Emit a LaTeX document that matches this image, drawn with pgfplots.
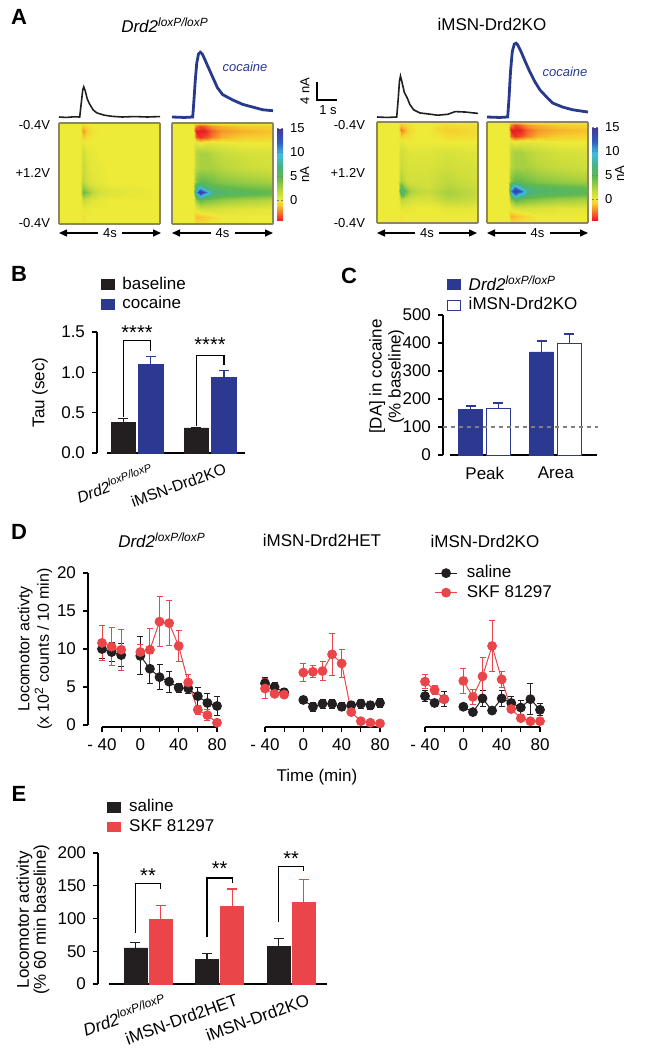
\documentclass[border=0pt]{standalone}
\usepackage{fontspec}
\setmainfont{Liberation Sans}
\usepackage{pgfplots}
\pgfplotsset{compat=1.18}
\usetikzlibrary{arrows.meta}

\definecolor{NavyBar}{HTML}{2B3990}
\definecolor{InkBlack}{HTML}{231F20}
\definecolor{SkfRed}{HTML}{EA4649}
\definecolor{HeatEdge}{HTML}{8C885C}
\definecolor{TraceBlue}{HTML}{283A8C}

\newcommand{\drd}{\textit{Drd2\textsuperscript{loxP/loxP}}}
\newcommand{\fs}{\fontsize{8.5}{9.5}\selectfont}
\newcommand{\fsm}{\fontsize{6.5}{7.5}\selectfont}
\newcommand{\fsl}{\fontsize{11}{12}\selectfont\bfseries}

\pgfplotsset{
  colormap={fscv}{rgb255(0pt)=(232,30,36); rgb255(19pt)=(245,125,40); rgb255(34pt)=(246,205,45);
    rgb255(44pt)=(238,234,56); rgb255(64pt)=(185,214,62); rgb255(89pt)=(98,186,76);
    rgb255(114pt)=(72,178,130); rgb255(139pt)=(62,190,228); rgb255(164pt)=(48,92,192); rgb255(194pt)=(70,55,150)},
  gp/.style={scale only axis, clip=false,
    axis x line=bottom, axis y line=left,
    axis line style={-, line width=0.6pt, black},
    every tick/.append style={black, line width=0.6pt},
    tick align=outside, major tick length=2.5pt,
    tick label style={font=\fs}, label style={font=\fs},
    /pgf/number format/assume math mode=true},
  legs/.style={legend style={at={(axis description cs:#1)}, anchor=north west, draw=none, fill=none,
    inner sep=0pt, row sep=1pt, font=\fs, nodes={inner sep=0.6pt}}, legend cell align=left},
  sqlegend/.style={legend image code/.code={\draw[##1] (0pt,-2.4pt) rectangle (6.5pt,2.4pt); \path (10pt,0pt);}},
  heat/.style={scale only axis, width=50.5pt, height=50.5pt, view={0}{90},
    xmin=0, xmax=1, ymin=0, ymax=1, xtick=\empty, ytick=\empty, ztick=\empty,
    axis on top, axis line style={HeatEdge, line width=0.6pt},
    colormap name=fscv, point meta min=-4.4, point meta max=15},
  cbar/.style={colorbar right, colorbar style={at={(parent axis.north east)}, anchor=north west,
    xshift=-6.5pt, yshift=-2.5pt, width=3pt, height=46.5pt, ytick={0,5,10,15},
    yticklabel style={font=\fsm, /pgf/number format/assume math mode=true},
    major tick length=1.2pt, axis line style={draw=none},
    ylabel={nA}, ylabel style={font=\fsm, at={(axis description cs:4.6,0.5)}, anchor=center}}},
  trace/.style={scale only axis, hide axis, width=50.5pt, height=40.5pt,
    xmin=0, xmax=4, ymin=-1, ymax=17, clip=false},
  dpt/.style={line width=0.5pt, mark=*, mark size=2.2pt, mark options={solid, fill=#1, draw=#1},
    color=#1, unbounded coords=jump,
    error bars/y dir=both, error bars/y explicit,
    error bars/error bar style={#1, line width=0.5pt},
    error bars/error mark options={rotate=90, mark size=1.5pt, #1, line width=0.5pt}},
  bpt/.style={ybar, bar shift=0pt, bar width=0.33, fill=#1, draw=#1, sqlegend,
    error bars/y dir=plus, error bars/y explicit,
    error bars/error bar style={#1, line width=0.6pt},
    error bars/error mark options={rotate=90, mark size=2.5pt, #1, line width=0.6pt}},
}

\begin{document}
\begin{tikzpicture}
\useasboundingbox (0pt,0pt) rectangle (325.5pt,-524.5pt);

% ---------- A: heat maps ----------
\begin{axis}[heat, at={(29.5pt,-112pt)}]
\addplot3[surf, shader=interp, mesh/cols=9] coordinates {
(0,0,0) (0.21,0,0) (0.235,0,0) (0.28,0,0) (0.33,0,0) (0.4,0,0) (0.5,0,0) (0.7,0,0) (1,0,0)
(0,0.07,0) (0.21,0.07,0) (0.235,0.07,-0.3) (0.28,0.07,0) (0.33,0.07,0) (0.4,0.07,0) (0.5,0.07,0) (0.7,0.07,0) (1,0.07,0)
(0,0.15,0) (0.21,0.15,0) (0.235,0.15,0.3) (0.28,0.15,0.2) (0.33,0.15,0) (0.4,0.15,0) (0.5,0.15,0) (0.7,0.15,0) (1,0.15,0)
(0,0.24,0) (0.21,0.24,0) (0.235,0.24,1.5) (0.28,0.24,1) (0.33,0.24,0.5) (0.4,0.24,0.3) (0.5,0.24,0) (0.7,0.24,0) (1,0.24,0)
(0,0.29,0) (0.21,0.29,0) (0.235,0.29,3.5) (0.28,0.29,2.5) (0.33,0.29,1.5) (0.4,0.29,0.8) (0.5,0.29,0.5) (0.7,0.29,0.3) (1,0.29,0)
(0,0.32,0) (0.21,0.32,0) (0.235,0.32,4.5) (0.28,0.32,3.5) (0.33,0.32,2) (0.4,0.32,1) (0.5,0.32,0.6) (0.7,0.32,0.3) (1,0.32,0)
(0,0.35,0) (0.21,0.35,0) (0.235,0.35,3.5) (0.28,0.35,2.5) (0.33,0.35,1.5) (0.4,0.35,0.8) (0.5,0.35,0.5) (0.7,0.35,0.3) (1,0.35,0)
(0,0.42,0) (0.21,0.42,0) (0.235,0.42,2) (0.28,0.42,1) (0.33,0.42,0.5) (0.4,0.42,0.3) (0.5,0.42,0) (0.7,0.42,0) (1,0.42,0)
(0,0.55,0) (0.21,0.55,0) (0.235,0.55,1.5) (0.28,0.55,0.8) (0.33,0.55,0.3) (0.4,0.55,0.2) (0.5,0.55,0) (0.7,0.55,0) (1,0.55,0)
(0,0.7,0) (0.21,0.7,0) (0.235,0.7,1.2) (0.28,0.7,0.5) (0.33,0.7,0.3) (0.4,0.7,0) (0.5,0.7,0) (0.7,0.7,0) (1,0.7,0)
(0,0.8,0) (0.21,0.8,0) (0.235,0.8,0.5) (0.28,0.8,0) (0.33,0.8,0) (0.4,0.8,0) (0.5,0.8,0) (0.7,0.8,0) (1,0.8,0)
(0,0.86,0) (0.21,0.86,0) (0.235,0.86,-1) (0.28,0.86,-0.3) (0.33,0.86,0) (0.4,0.86,0) (0.5,0.86,0) (0.7,0.86,0) (1,0.86,0)
(0,0.92,0) (0.21,0.92,0) (0.235,0.92,-2) (0.28,0.92,-1) (0.33,0.92,-0.3) (0.4,0.92,0) (0.5,0.92,0) (0.7,0.92,0) (1,0.92,0)
(0,0.97,0) (0.21,0.97,0) (0.235,0.97,-1) (0.28,0.97,-0.5) (0.33,0.97,0) (0.4,0.97,0) (0.5,0.97,0) (0.7,0.97,0) (1,0.97,0)
(0,1,0) (0.21,1,0) (0.235,1,0) (0.28,1,0) (0.33,1,0) (0.4,1,0) (0.5,1,0) (0.7,1,0) (1,1,0)
};
\end{axis}

\begin{axis}[heat, cbar, at={(86pt,-112pt)}]
\addplot3[surf, shader=interp, mesh/cols=9] coordinates {
(0,0,0) (0.21,0,0) (0.235,0,-0.5) (0.28,0,-0.5) (0.33,0,-0.3) (0.4,0,0) (0.5,0,0) (0.7,0,0) (1,0,0)
(0,0.07,0) (0.21,0.07,0) (0.235,0.07,-1.2) (0.28,0.07,-1.2) (0.33,0.07,-1) (0.4,0.07,-0.5) (0.5,0.07,0) (0.7,0.07,0) (1,0.07,0)
(0,0.15,0) (0.21,0.15,0) (0.235,0.15,0.5) (0.28,0.15,1) (0.33,0.15,1) (0.4,0.15,1) (0.5,0.15,0.8) (0.7,0.15,0.5) (1,0.15,0.3)
(0,0.24,0) (0.21,0.24,0) (0.235,0.24,3) (0.28,0.24,4.5) (0.33,0.24,4) (0.4,0.24,3.5) (0.5,0.24,3) (0.7,0.24,2.5) (1,0.24,2)
(0,0.29,0) (0.21,0.29,0) (0.235,0.29,7) (0.28,0.29,11) (0.33,0.29,8) (0.4,0.29,6) (0.5,0.29,5) (0.7,0.29,4.5) (1,0.29,4)
(0,0.32,0) (0.21,0.32,0) (0.235,0.32,10) (0.28,0.32,15) (0.33,0.32,12) (0.4,0.32,7) (0.5,0.32,6) (0.7,0.32,5.5) (1,0.32,4.5)
(0,0.35,0) (0.21,0.35,0) (0.235,0.35,7) (0.28,0.35,11) (0.33,0.35,8) (0.4,0.35,6) (0.5,0.35,5) (0.7,0.35,4.5) (1,0.35,4)
(0,0.42,0) (0.21,0.42,0) (0.235,0.42,3.5) (0.28,0.42,4.5) (0.33,0.42,4.5) (0.4,0.42,4) (0.5,0.42,3.5) (0.7,0.42,3) (1,0.42,2.5)
(0,0.55,0) (0.21,0.55,0) (0.235,0.55,2) (0.28,0.55,2.5) (0.33,0.55,2.5) (0.4,0.55,2.5) (0.5,0.55,2) (0.7,0.55,1.5) (1,0.55,1)
(0,0.7,0) (0.21,0.7,0) (0.235,0.7,2) (0.28,0.7,2.5) (0.33,0.7,2.5) (0.4,0.7,2) (0.5,0.7,1.5) (0.7,0.7,1) (1,0.7,0.8)
(0,0.8,0) (0.21,0.8,0) (0.235,0.8,0.5) (0.28,0.8,0) (0.33,0.8,0.5) (0.4,0.8,0.5) (0.5,0.8,0.3) (0.7,0.8,0) (1,0.8,0)
(0,0.86,0) (0.21,0.86,0) (0.235,0.86,-3) (0.28,0.86,-4) (0.33,0.86,-3.5) (0.4,0.86,-2.5) (0.5,0.86,-1.5) (0.7,0.86,-1) (1,0.86,-0.8)
(0,0.92,0) (0.21,0.92,0) (0.235,0.92,-4.4) (0.28,0.92,-4.4) (0.33,0.92,-4.4) (0.4,0.92,-3) (0.5,0.92,-2) (0.7,0.92,-1.5) (1,0.92,-1.2)
(0,0.97,0) (0.21,0.97,0) (0.235,0.97,-2.5) (0.28,0.97,-3.5) (0.33,0.97,-3) (0.4,0.97,-2) (0.5,0.97,-1.5) (0.7,0.97,-1) (1,0.97,-0.8)
(0,1,0) (0.21,1,0) (0.235,1,0) (0.28,1,-0.5) (0.33,1,-0.5) (0.4,1,0) (0.5,1,0) (0.7,1,0) (1,1,0)
};
\end{axis}

\begin{axis}[heat, at={(188.5pt,-111.5pt)}]
\addplot3[surf, shader=interp, mesh/cols=9] coordinates {
(0,0,0) (0.21,0,0) (0.235,0,0) (0.28,0,0) (0.33,0,0) (0.4,0,0) (0.5,0,0) (0.7,0,0) (1,0,0)
(0,0.07,0) (0.21,0.07,0) (0.235,0.07,-0.3) (0.28,0.07,0) (0.33,0.07,0) (0.4,0.07,0) (0.5,0.07,0) (0.7,0.07,0) (1,0.07,0)
(0,0.15,0) (0.21,0.15,0) (0.235,0.15,0.5) (0.28,0.15,0.3) (0.33,0.15,0.2) (0.4,0.15,0) (0.5,0.15,0) (0.7,0.15,0.5) (1,0.15,0.3)
(0,0.24,0) (0.21,0.24,0) (0.235,0.24,2) (0.28,0.24,1.5) (0.33,0.24,1) (0.4,0.24,0.8) (0.5,0.24,0.8) (0.7,0.24,2) (1,0.24,1.2)
(0,0.29,0) (0.21,0.29,0) (0.235,0.29,6) (0.28,0.29,3.5) (0.33,0.29,2) (0.4,0.29,1.5) (0.5,0.29,1.2) (0.7,0.29,2.5) (1,0.29,1.5)
(0,0.32,0) (0.21,0.32,0) (0.235,0.32,8.5) (0.28,0.32,4.5) (0.33,0.32,2.5) (0.4,0.32,1.8) (0.5,0.32,1.5) (0.7,0.32,2.5) (1,0.32,1.5)
(0,0.35,0) (0.21,0.35,0) (0.235,0.35,6) (0.28,0.35,3.5) (0.33,0.35,2) (0.4,0.35,1.5) (0.5,0.35,1.2) (0.7,0.35,2.2) (1,0.35,1.3)
(0,0.42,0) (0.21,0.42,0) (0.235,0.42,2.5) (0.28,0.42,1.5) (0.33,0.42,1) (0.4,0.42,1) (0.5,0.42,1) (0.7,0.42,1.8) (1,0.42,1)
(0,0.55,0) (0.21,0.55,0) (0.235,0.55,1.5) (0.28,0.55,1) (0.33,0.55,0.8) (0.4,0.55,0.8) (0.5,0.55,0.8) (0.7,0.55,1.2) (1,0.55,0.8)
(0,0.7,0) (0.21,0.7,0) (0.235,0.7,1.2) (0.28,0.7,0.8) (0.33,0.7,0.5) (0.4,0.7,0.5) (0.5,0.7,0.5) (0.7,0.7,0.8) (1,0.7,0.5)
(0,0.8,0) (0.21,0.8,0) (0.235,0.8,0.5) (0.28,0.8,0.2) (0.33,0.8,0) (0.4,0.8,0) (0.5,0.8,0) (0.7,0.8,0) (1,0.8,0)
(0,0.86,0) (0.21,0.86,0) (0.235,0.86,-1) (0.28,0.86,-0.5) (0.33,0.86,-0.2) (0.4,0.86,0) (0.5,0.86,0) (0.7,0.86,-0.5) (1,0.86,-0.3)
(0,0.92,0) (0.21,0.92,0) (0.235,0.92,-2.5) (0.28,0.92,-1.5) (0.33,0.92,-0.5) (0.4,0.92,0) (0.5,0.92,0) (0.7,0.92,-1) (1,0.92,-0.5)
(0,0.97,0) (0.21,0.97,0) (0.235,0.97,-1.2) (0.28,0.97,-0.8) (0.33,0.97,-0.3) (0.4,0.97,0) (0.5,0.97,0) (0.7,0.97,-0.5) (1,0.97,-0.3)
(0,1,0) (0.21,1,0) (0.235,1,0) (0.28,1,0) (0.33,1,0) (0.4,1,0) (0.5,1,0) (0.7,1,0) (1,1,0)
};
\end{axis}

\begin{axis}[heat, cbar, at={(243.5pt,-111.5pt)}]
\addplot3[surf, shader=interp, mesh/cols=9] coordinates {
(0,0,0) (0.21,0,0) (0.235,0,-0.5) (0.28,0,-0.5) (0.33,0,-0.3) (0.4,0,0) (0.5,0,0) (0.7,0,0) (1,0,0)
(0,0.07,0) (0.21,0.07,0) (0.235,0.07,-1.5) (0.28,0.07,-1.3) (0.33,0.07,-1) (0.4,0.07,-0.5) (0.5,0.07,0) (0.7,0.07,0) (1,0.07,0)
(0,0.15,0) (0.21,0.15,0) (0.235,0.15,0.5) (0.28,0.15,1) (0.33,0.15,1) (0.4,0.15,1) (0.5,0.15,0.8) (0.7,0.15,0.5) (1,0.15,0.5)
(0,0.24,0) (0.21,0.24,0) (0.235,0.24,3.5) (0.28,0.24,5) (0.33,0.24,4.5) (0.4,0.24,4) (0.5,0.24,3.5) (0.7,0.24,3) (1,0.24,2.5)
(0,0.29,0) (0.21,0.29,0) (0.235,0.29,8) (0.28,0.29,12) (0.33,0.29,9) (0.4,0.29,6.5) (0.5,0.29,5.5) (0.7,0.29,5) (1,0.29,4.5)
(0,0.32,0) (0.21,0.32,0) (0.235,0.32,11) (0.28,0.32,15) (0.33,0.32,13) (0.4,0.32,7.5) (0.5,0.32,6.5) (0.7,0.32,6) (1,0.32,5)
(0,0.35,0) (0.21,0.35,0) (0.235,0.35,8) (0.28,0.35,12) (0.33,0.35,9) (0.4,0.35,6.5) (0.5,0.35,5.5) (0.7,0.35,5) (1,0.35,4.5)
(0,0.42,0) (0.21,0.42,0) (0.235,0.42,3.5) (0.28,0.42,4.5) (0.33,0.42,4.5) (0.4,0.42,4) (0.5,0.42,3.5) (0.7,0.42,3) (1,0.42,2.5)
(0,0.55,0) (0.21,0.55,0) (0.235,0.55,2) (0.28,0.55,2.5) (0.33,0.55,2.5) (0.4,0.55,2.5) (0.5,0.55,2) (0.7,0.55,1.5) (1,0.55,1.2)
(0,0.7,0) (0.21,0.7,0) (0.235,0.7,2) (0.28,0.7,2.5) (0.33,0.7,2.5) (0.4,0.7,2) (0.5,0.7,1.5) (0.7,0.7,1) (1,0.7,0.8)
(0,0.8,0) (0.21,0.8,0) (0.235,0.8,0.5) (0.28,0.8,0) (0.33,0.8,0.5) (0.4,0.8,0.5) (0.5,0.8,0.3) (0.7,0.8,0) (1,0.8,0)
(0,0.86,0) (0.21,0.86,0) (0.235,0.86,-3) (0.28,0.86,-4) (0.33,0.86,-3.5) (0.4,0.86,-2.5) (0.5,0.86,-1.5) (0.7,0.86,-1) (1,0.86,-0.8)
(0,0.92,0) (0.21,0.92,0) (0.235,0.92,-4.4) (0.28,0.92,-4.4) (0.33,0.92,-4.4) (0.4,0.92,-3) (0.5,0.92,-2) (0.7,0.92,-1.5) (1,0.92,-1.2)
(0,0.97,0) (0.21,0.97,0) (0.235,0.97,-2.5) (0.28,0.97,-3.5) (0.33,0.97,-3) (0.4,0.97,-2) (0.5,0.97,-1.5) (0.7,0.97,-1) (1,0.97,-0.8)
(0,1,0) (0.21,1,0) (0.235,1,0) (0.28,1,-0.5) (0.33,1,-0.5) (0.4,1,0) (0.5,1,0) (0.7,1,0) (1,1,0)
};
\end{axis}

% ---------- A: current traces (nA vs s) ----------
\begin{axis}[trace, at={(29.5pt,-60.75pt)}]
\addplot[InkBlack, line width=0.8pt] coordinates {
(0,0) (0.3,-0.1) (0.6,0.05) (0.82,0) (0.88,3) (0.94,6) (0.98,6.7) (1.04,5.8) (1.12,4) (1.2,3)
(1.35,1.6) (1.5,0.9) (1.8,0.4) (2.1,0.15) (2.5,0) (3.0,0.1) (3.5,0) (4.0,0.1)};
\end{axis}
\begin{axis}[trace, at={(86pt,-60.75pt)}]
\addplot[TraceBlue, line width=1.4pt] coordinates {
(0,0) (0.5,-0.1) (0.82,0) (0.86,3) (0.92,8) (0.98,12) (1.05,14) (1.12,14.4) (1.2,14) (1.3,12.8)
(1.4,11.5) (1.6,9) (1.8,6.5) (2.0,5) (2.4,3.8) (2.8,2.8) (3.2,2.2) (3.6,1.6) (4.0,1.4)};
\end{axis}
\begin{axis}[trace, at={(188.5pt,-60.75pt)}]
\addplot[InkBlack, line width=0.8pt] coordinates {
(0,0) (0.4,-0.1) (0.78,0) (0.84,4) (0.89,8) (0.93,9.1) (0.98,8) (1.08,5.5) (1.2,4.2) (1.3,2.8)
(1.45,1.6) (1.7,0.9) (2.0,0.7) (2.4,0.4) (2.8,0.6) (3.1,1.2) (3.5,1.1) (4.0,0.8)};
\end{axis}
\begin{axis}[trace, at={(243.5pt,-60.75pt)}]
\addplot[TraceBlue, line width=1.4pt] coordinates {
(0,0) (0.5,-0.1) (0.82,0) (0.87,4) (0.93,10) (1.0,14.5) (1.08,16.2) (1.15,16.4) (1.22,16) (1.35,14.5)
(1.5,12.5) (1.7,10) (1.9,7.8) (2.1,6) (2.4,4.2) (2.6,3.1) (3.0,2.2) (3.4,1.6) (4.0,1.1)};
\end{axis}

% ---------- B ----------
\begin{axis}[gp, at={(53.5pt,-226.5pt)}, width=69pt, height=60.5pt,
  xmin=-0.411, xmax=1.479, ymin=0, ymax=1.5,
  ytick={0,0.5,1,1.5}, yticklabels={0.0,0.5,1.0,1.5},
  axis y line shift=5pt, major x tick style={draw=none},
  xtick={0,1}, xticklabels={\drd,iMSN-Drd2KO},
  xticklabel style={rotate=20, anchor=north east, xshift=9pt, yshift=-1pt, font=\fontsize{7.8}{9}\selectfont},
  ylabel={Tau (sec)}, ylabel style={at={(axis description cs:-0.486,0.5)}, anchor=center},
  legs={-0.05,1.47}]
\addplot[bpt=InkBlack] coordinates {(-0.19,0.38) +- (0,0.05) (0.81,0.31) +- (0,0.01)};
\addplot[bpt=NavyBar] coordinates {(0.19,1.10) +- (0,0.10) (1.19,0.94) +- (0,0.08)};
\legend{baseline, cocaine}
\draw[line width=0.6pt] (axis cs:-0.19,0.45) |- (axis cs:0.19,1.39) -- (axis cs:0.19,1.27);
\draw[line width=0.6pt] (axis cs:0.81,0.33) |- (axis cs:1.19,1.21) -- (axis cs:1.19,1.09);
\node[font=\fontsize{10}{10}\selectfont] at (axis cs:0,1.49) {****};
\node[font=\fontsize{10}{10}\selectfont] at (axis cs:1,1.34) {****};
\end{axis}

% ---------- C ----------
\begin{axis}[gp, at={(225pt,-227.5pt)}, width=73.5pt, height=70pt,
  xmin=-0.49, xmax=1.58, ymin=0, ymax=500, ytick={0,100,...,500},
  axis y line shift=3.5pt, major x tick style={draw=none},
  xtick={0,1}, xticklabels={Peak,Area},
  ylabel={[DA] in cocaine\\(\% baseline)},
  ylabel style={at={(axis description cs:-0.43,0.56)}, anchor=center, align=center},
  legs={-0.025,1.29}]
\addplot[bpt=NavyBar, bar width=0.34] coordinates {(-0.2,164) +- (0,11) (0.8,368) +- (0,39)};
\addplot[bpt=NavyBar, fill=white] coordinates {(0.19,168) +- (0,18) (1.19,400) +- (0,32)};
\legend{\drd, iMSN-Drd2KO}
\draw[dash pattern=on 2pt off 2pt, gray, line width=0.6pt] (axis cs:-0.59,100) -- (axis cs:1.6,100);
\end{axis}

% ---------- D ----------
\begin{axis}[gp, at={(51pt,-362.5pt)}, width=57.5pt, height=76pt,
  xmin=-40, xmax=80, ymin=0, ymax=20,
  xtick={-40,-20,0,20,40,60,80}, xticklabels={- 40,,0,,40,,80},
  ytick={0,5,10,15,20}, axis y line shift=7pt, axis x line shift=1pt,
  ylabel={Locomotor activty\\(x 10\textsuperscript{2} counts / 10 min)},
  ylabel style={at={(axis description cs:-0.583,0.5)}, anchor=center, align=center,
    font=\fontsize{8}{7.5}\selectfont}]
\addplot[dpt=InkBlack] coordinates {(-40,10.0) +- (0,1.2) (-30,9.6) +- (0,1.3) (-20,9.2) +- (0,1.5) (-10,nan)
  (0,9.1) +- (0,2.5) (10,7.4) +- (0,2.0) (20,6.3) +- (0,1.6) (30,5.7) +- (0,1.4) (40,4.9) +- (0,0.6)
  (50,4.8) +- (0,0.6) (60,3.8) +- (0,1.2) (70,2.9) +- (0,1.2) (80,2.5) +- (0,1.2)};
\addplot[dpt=SkfRed] coordinates {(-40,10.8) +- (0,2.3) (-30,10.3) +- (0,2.5) (-20,9.9) +- (0,2.7) (-10,nan)
  (0,9.6) +- (0,1.0) (10,9.9) +- (0,2.8) (20,13.6) +- (0,3.3) (30,13.4) +- (0,3.0) (40,10.4) +- (0,2.1)
  (50,5.6) +- (0,1.0) (60,2.0) +- (0,0.6) (70,1.3) +- (0,0.7) (80,0.3) +- (0,0.3)};
\end{axis}

\begin{axis}[gp, at={(132.5pt,-362.5pt)}, width=57.5pt, height=76pt,
  xmin=-40, xmax=80, ymin=0, ymax=20, hide y axis,
  xtick={-40,-20,0,20,40,60,80}, xticklabels={- 40,,0,,40,,80}, axis x line shift=1pt,
  xlabel={Time (min)}, xlabel style={at={(axis description cs:0.452,-0.342)}, anchor=center}]
\addplot[dpt=InkBlack] coordinates {(-40,5.5) +- (0,0.8) (-30,5.0) +- (0,0.6) (-20,4.3) +- (0,0.5) (-10,nan)
  (0,3.3) +- (0,0.5) (10,2.4) +- (0,0.6) (20,2.8) +- (0,0.6) (30,2.8) +- (0,0.6) (40,2.4) +- (0,0.5)
  (50,2.6) +- (0,0.5) (60,2.8) +- (0,0.6) (70,2.6) +- (0,0.5) (80,2.9) +- (0,0.6)};
\addplot[dpt=SkfRed] coordinates {(-40,4.8) +- (0,1.3) (-30,4.1) +- (0,0.4) (-20,4.0) +- (0,0.4) (-10,nan)
  (0,6.9) +- (0,1.2) (10,7.0) +- (0,0.8) (20,7.1) +- (0,1.2) (30,9.3) +- (0,2.8) (40,8.1) +- (0,1.9)
  (50,1.7) +- (0,0.3) (60,0.5) +- (0,0.2) (70,0.3) +- (0,0.2) (80,0.2) +- (0,0.2)};
\end{axis}

\begin{axis}[gp, at={(212.5pt,-362.5pt)}, width=57.5pt, height=76pt,
  xmin=-40, xmax=80, ymin=0, ymax=20, hide y axis,
  xtick={-40,-20,0,20,40,60,80}, xticklabels={- 40,,0,,40,,80}, axis x line shift=1pt,
  legs={0.08,1.06},
  legend image code/.code={\draw[mark repeat=2, mark phase=2, #1] plot coordinates {(0pt,0pt) (5.5pt,0pt) (11pt,0pt)}; \path (15pt,0pt);}]
\addplot[dpt=InkBlack] coordinates {(-40,3.8) +- (0,0.7) (-30,2.9) +- (0,0.5) (-20,3.4) +- (0,1.0) (-10,nan)
  (0,2.4) +- (0,0.3) (10,1.7) +- (0,0.4) (20,3.5) +- (0,1.0) (30,1.9) +- (0,0.3) (40,3.5) +- (0,1.0)
  (50,2.9) +- (0,0.9) (60,2.3) +- (0,0.9) (70,3.4) +- (0,2.0) (80,2.0) +- (0,0.8)};
\addplot[dpt=SkfRed] coordinates {(-40,5.7) +- (0,0.9) (-30,4.6) +- (0,0.6) (-20,3.4) +- (0,0.5) (-10,nan)
  (0,5.8) +- (0,1.7) (10,3.7) +- (0,1.0) (20,6.4) +- (0,2.5) (30,10.4) +- (0,3.3) (40,6.0) +- (0,1.0)
  (50,2.1) +- (0,0.5) (60,0.9) +- (0,0.3) (70,0.5) +- (0,0.3) (80,0.5) +- (0,0.3)};
\legend{saline, SKF 81297}
\end{axis}

% ---------- E ----------
\begin{axis}[gp, at={(54.5pt,-492pt)}, width=109pt, height=65.5pt,
  xmin=-0.545, xmax=2.5, ymin=0, ymax=200, ytick={0,50,...,200},
  axis y line shift=5.5pt, major x tick style={draw=none},
  xtick={0,1,2}, xticklabels={\drd,iMSN-Drd2HET,iMSN-Drd2KO},
  xticklabel style={rotate=20, anchor=north east, xshift=10pt, yshift=-1pt},
  ylabel={Locomotor activity\\(\% 60 min baseline)},
  ylabel style={at={(axis description cs:-0.349,0.49)}, anchor=center, align=center,
    font=\fontsize{8.5}{8.5}\selectfont},
  legs={-0.01,1.42}]
\addplot[bpt=InkBlack, bar width=0.32] coordinates {(-0.175,55) +- (0,8) (0.825,38) +- (0,8) (1.825,58) +- (0,11)};
\addplot[bpt=SkfRed, bar width=0.32] coordinates {(0.175,99) +- (0,21) (1.175,119) +- (0,26) (2.175,124) +- (0,35)};
\legend{saline, SKF 81297}
\draw[line width=0.6pt] (axis cs:-0.175,78) |- (axis cs:0.175,154) -- (axis cs:0.175,145);
\draw[line width=0.6pt] (axis cs:0.825,72) |- (axis cs:1.175,162) -- (axis cs:1.175,154);
\draw[line width=0.6pt] (axis cs:1.825,95) |- (axis cs:2.175,179) -- (axis cs:2.175,173);
\node[font=\fontsize{10}{10}\selectfont] at (axis cs:0,166) {**};
\node[font=\fontsize{10}{10}\selectfont] at (axis cs:1,176) {**};
\node[font=\fontsize{10}{10}\selectfont] at (axis cs:2,192) {**};
\end{axis}

% ---------- free annotations (pixel grid of the reference) ----------
\begin{scope}[x=0.5pt, y=-0.5pt]
\node[font=\fsl] at (19,17) {A};
\node[font=\fsl] at (19,274) {B};
\node[font=\fsl] at (349,276) {C};
\node[font=\fsl] at (19,532) {D};
\node[font=\fsl] at (19,794) {E};

\node[font=\fs] at (165,25) {\drd};
\node[font=\fs] at (492,24) {iMSN-Drd2KO};
\node[font=\fsm\itshape, TraceBlue] at (245,67) {cocaine};
\node[font=\fsm\itshape, TraceBlue] at (565,72) {cocaine};

\draw[line width=0.7pt] (317,82) -- (317,100) -- (337,100);
\node[font=\fsm, rotate=90] at (305,91) {4 nA};
\node[font=\fsm] at (328,110) {1 s};

\foreach \yy/\tt in {125/-0.4V, 173/+1.2V, 223/-0.4V} {
  \node[font=\fsm, anchor=east] at (57,\yy) {\tt};
  \node[font=\fsm, anchor=east] at (372,\yy) {\tt};
}
\foreach \xa/\xb in {59/161, 172/273, 377/477, 487/588} {
  \pgfmathsetmacro{\xc}{(\xa+\xb)/2}
  \draw[line width=0.7pt, -{Triangle[length=4pt, width=3.5pt]}] (\xc-12,233) -- (\xa,233);
  \draw[line width=0.7pt, -{Triangle[length=4pt, width=3.5pt]}] (\xc+12,233) -- (\xb,233);
  \node[font=\fsm] at (\xc,233) {4s};
}

\node[font=\fs] at (162,540) {\drd};
\node[font=\fs] at (322,540) {iMSN-Drd2HET};
\node[font=\fs] at (485,541) {iMSN-Drd2KO};
\end{scope}
\end{tikzpicture}
\end{document}
